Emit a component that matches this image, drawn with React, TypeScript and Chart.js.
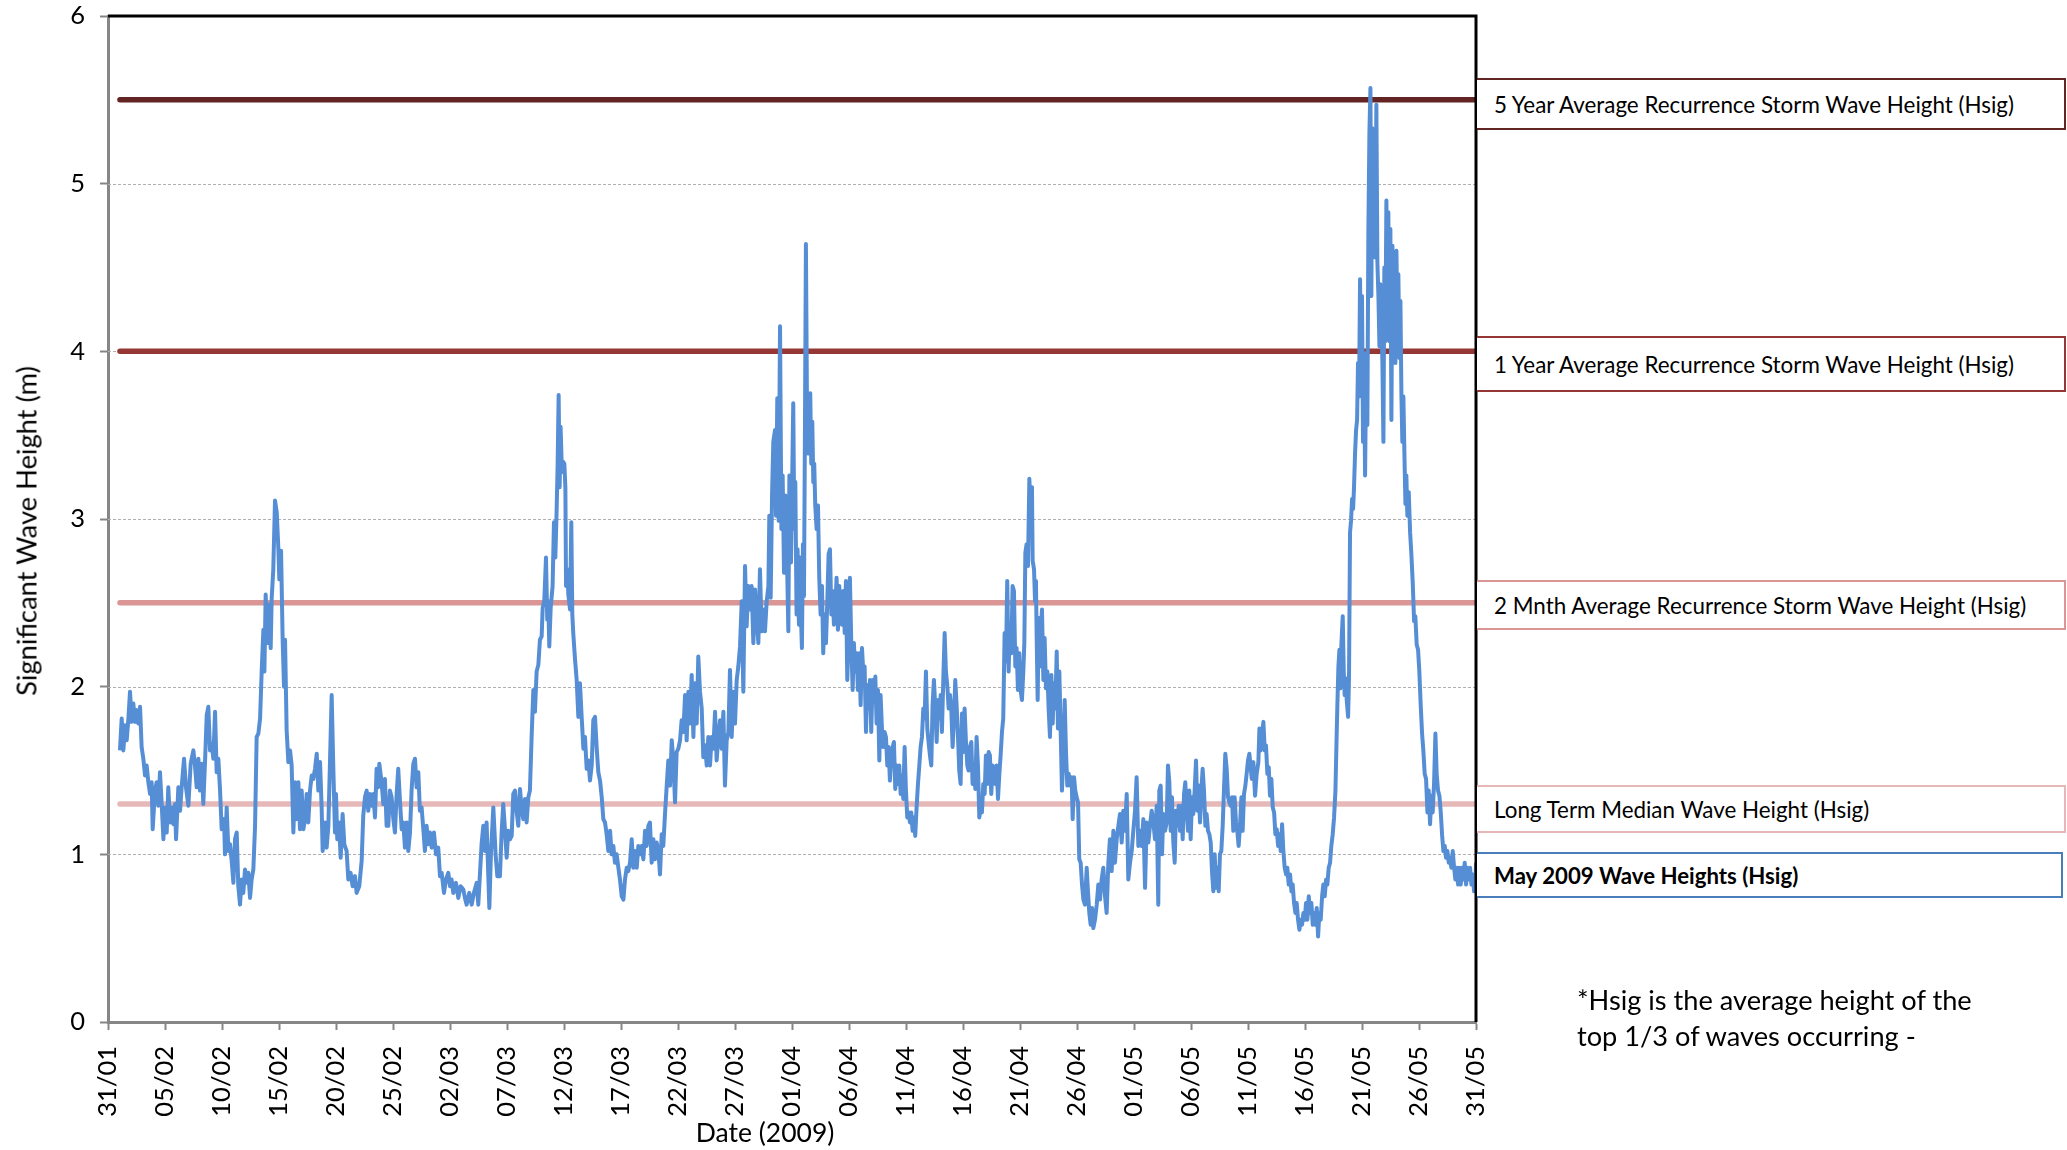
import React, { useEffect, useRef } from 'react';
import { Chart, registerables } from 'chart.js';

Chart.register(...registerables);

// ---------------- DATA ----------------
// x: days after 31/01/2009 (0 = 31/01, 120 = 31/05); y: Hsig (m)
const xTickLabels = [
  '31/01', '05/02', '10/02', '15/02', '20/02', '25/02', '02/03', '07/03', '12/03',
  '17/03', '22/03', '27/03', '01/04', '06/04', '11/04', '16/04', '21/04', '26/04',
  '01/05', '06/05', '11/05', '16/05', '21/05', '26/05', '31/05',
];
const yTickValues = [0, 1, 2, 3, 4, 5, 6];

const thresholdNames = [
  '5 Year Average Recurrence Storm Wave Height (Hsig)',
  '1 Year Average Recurrence Storm Wave Height (Hsig)',
  '2 Mnth Average Recurrence Storm Wave Height (Hsig)',
  'Long Term Median Wave Height (Hsig)',
];
const thresholdValues = [5.5, 4.0, 2.5, 1.3];
const seriesName = 'May 2009 Wave Heights (Hsig)';
const noteLines = ['*Hsig is the average height of the', 'top 1/3 of waves occurring -'];

// [day, Hsig]
const waveReadings: [number, number][] = [
  [1.05, 1.62], [1.2, 1.81], [1.35, 1.62], [1.49, 1.77], [1.64, 1.68], [1.79, 1.81], [1.93, 1.97], [2.08, 1.79],
  [2.22, 1.9], [2.37, 1.79], [2.52, 1.86], [2.66, 1.78], [2.81, 1.88], [2.95, 1.64], [3.1, 1.57], [3.25, 1.47],
  [3.39, 1.53], [3.54, 1.43], [3.69, 1.36], [3.83, 1.43], [3.92, 1.15], [4.12, 1.38], [4.27, 1.43], [4.42, 1.29],
  [4.56, 1.49], [4.71, 1.3], [4.86, 1.09], [5.0, 1.28], [5.15, 1.13], [5.29, 1.4], [5.44, 1.19], [5.59, 1.28],
  [5.73, 1.18], [5.88, 1.3], [5.97, 1.09], [6.17, 1.4], [6.32, 1.26], [6.46, 1.4], [6.67, 1.57], [6.84, 1.4],
  [7.05, 1.29], [7.25, 1.54], [7.49, 1.62], [7.63, 1.53], [7.78, 1.4], [7.93, 1.57], [8.07, 1.38], [8.22, 1.54],
  [8.36, 1.3], [8.51, 1.55], [8.66, 1.83], [8.8, 1.88], [8.95, 1.62], [9.1, 1.66], [9.24, 1.57], [9.39, 1.85],
  [9.53, 1.49], [9.68, 1.57], [9.83, 1.38], [9.97, 1.15], [10.18, 1.21], [10.26, 1.0], [10.41, 1.28], [10.56, 1.02],
  [10.7, 1.06], [10.85, 0.96], [11.0, 0.83], [11.14, 1.09], [11.29, 1.13], [11.43, 0.81], [11.58, 0.7], [11.73, 0.85],
  [11.87, 0.77], [12.02, 0.91], [12.17, 0.83], [12.31, 0.89], [12.46, 0.74], [12.6, 0.85], [12.75, 0.91], [12.9, 1.17],
  [13.04, 1.7], [13.19, 1.72], [13.34, 1.81], [13.48, 2.09], [13.63, 2.34], [13.72, 2.09], [13.83, 2.55], [13.98, 2.26],
  [14.12, 2.49], [14.27, 2.23], [14.36, 2.53], [14.5, 2.7], [14.65, 3.11], [14.8, 3.04], [14.94, 2.83], [15.03, 2.64],
  [15.18, 2.81], [15.32, 2.28], [15.44, 2.0], [15.53, 2.28], [15.67, 1.74], [15.82, 1.55], [15.97, 1.62], [16.11, 1.53],
  [16.26, 1.13], [16.41, 1.43], [16.55, 1.21], [16.7, 1.43], [16.84, 1.15], [16.99, 1.38], [17.14, 1.15], [17.28, 1.21],
  [17.43, 1.36], [17.57, 1.19], [17.72, 1.38], [17.87, 1.47], [18.01, 1.45], [18.16, 1.51], [18.31, 1.6], [18.45, 1.38],
  [18.6, 1.55], [18.74, 1.28], [18.83, 1.02], [19.04, 1.19], [19.18, 1.04], [19.33, 1.17],
  [19.62, 1.95], [19.76, 1.53], [19.91, 1.13], [20.0, 1.36], [20.11, 1.09], [20.26, 1.19], [20.41, 0.98], [20.58, 1.24],
  [20.73, 1.06], [20.93, 1.02], [21.08, 0.85], [21.28, 0.89], [21.46, 0.81], [21.66, 0.87], [21.81, 0.77], [22.04, 0.81],
  [22.25, 0.96], [22.39, 1.23], [22.54, 1.34], [22.69, 1.38], [22.83, 1.26], [22.98, 1.36], [23.13, 1.29], [23.27, 1.36],
  [23.42, 1.22], [23.56, 1.51], [23.71, 1.4], [23.8, 1.54], [24.0, 1.43], [24.15, 1.3], [24.29, 1.45], [24.44, 1.17],
  [24.59, 1.17], [24.73, 1.38], [24.88, 1.34], [25.03, 1.21], [25.17, 1.13], [25.32, 1.36], [25.46, 1.51], [25.61, 1.32],
  [25.76, 1.15], [25.9, 1.19], [26.05, 1.04], [26.2, 1.19], [26.34, 1.02], [26.49, 1.13], [26.63, 1.38], [26.78, 1.54],
  [26.93, 1.57], [27.07, 1.4], [27.22, 1.49], [27.36, 1.26], [27.51, 1.28], [27.66, 1.15], [27.8, 1.02], [27.95, 1.17],
  [28.1, 1.06], [28.24, 1.13], [28.39, 1.04], [28.59, 1.13], [28.77, 1.0], [28.97, 1.04], [29.12, 0.87], [29.27, 0.89],
  [29.47, 0.77], [29.65, 0.85], [29.85, 0.89], [30.0, 0.81], [30.14, 0.85], [30.29, 0.77], [30.52, 0.83], [30.73, 0.74],
  [30.93, 0.81], [31.17, 0.79], [31.31, 0.74], [31.46, 0.7], [31.69, 0.77], [31.9, 0.7], [32.1, 0.77], [32.34, 0.83],
  [32.48, 0.7], [32.77, 1.06], [32.92, 1.17], [33.07, 1.02], [33.21, 1.19], [33.45, 0.68], [33.59, 1.0], [33.8, 1.28],
  [34.0, 1.0], [34.15, 0.87], [34.38, 0.87], [34.53, 1.13], [34.67, 1.3], [34.82, 1.15], [34.97, 0.98], [35.11, 1.14],
  [35.26, 1.09], [35.41, 1.11], [35.55, 1.36], [35.7, 1.38], [35.84, 1.26], [35.99, 1.17], [36.14, 1.39], [36.28, 1.28],
  [36.43, 1.21], [36.58, 1.33], [36.72, 1.19], [36.87, 1.34], [37.01, 1.38], [37.16, 1.7], [37.31, 1.98], [37.45, 1.85],
  [37.6, 2.09], [37.75, 2.13], [37.89, 2.28], [38.04, 2.3], [38.13, 2.47], [38.27, 2.51], [38.42, 2.77], [38.53, 2.4],
  [38.62, 2.51], [38.71, 2.24], [38.83, 2.47], [39.0, 2.6], [39.12, 2.98], [39.24, 2.77], [39.35, 3.04], [39.44, 3.32],
  [39.53, 3.74], [39.62, 3.19], [39.7, 3.55], [39.82, 3.28], [39.94, 3.34],
  [40.03, 3.33], [40.12, 3.19], [40.18, 2.6], [40.29, 2.7], [40.38, 2.55], [40.53, 2.46], [40.64, 2.98], [40.73, 2.43],
  [40.82, 2.31], [40.97, 2.16], [41.11, 2.04], [41.26, 1.82], [41.4, 2.02], [41.55, 1.82], [41.7, 1.63], [41.84, 1.7],
  [41.99, 1.51], [42.14, 1.56], [42.28, 1.44], [42.43, 1.53], [42.57, 1.8], [42.72, 1.82], [42.87, 1.63], [43.01, 1.49],
  [43.16, 1.44], [43.31, 1.34], [43.45, 1.21], [43.6, 1.19], [43.74, 1.12], [43.89, 1.02], [44.04, 1.14], [44.18, 1.0],
  [44.33, 1.05], [44.47, 0.95], [44.62, 1.0], [44.77, 0.92], [44.91, 0.85], [45.06, 0.75], [45.21, 0.73], [45.35, 0.85],
  [45.5, 0.92], [45.64, 0.9], [45.79, 0.95], [45.94, 1.09], [46.08, 0.92], [46.23, 1.02], [46.38, 0.92], [46.52, 1.05],
  [46.67, 1.0], [46.81, 1.05], [46.96, 0.97], [47.11, 1.14], [47.25, 1.05], [47.4, 1.17], [47.54, 1.19], [47.69, 0.95],
  [47.84, 1.09], [47.98, 0.97], [48.13, 1.07], [48.28, 1.02], [48.42, 0.88], [48.57, 1.12], [48.71, 1.05], [48.86, 1.24],
  [49.01, 1.41], [49.15, 1.56], [49.3, 1.41], [49.45, 1.68], [49.59, 1.56], [49.74, 1.31], [49.88, 1.61], [50.03, 1.63],
  [50.18, 1.68], [50.32, 1.8], [50.47, 1.73], [50.62, 1.95], [50.76, 1.68], [50.91, 1.97], [51.05, 1.78], [51.2, 2.07],
  [51.35, 1.7], [51.49, 2.02], [51.64, 1.78], [51.78, 2.18], [51.93, 1.97], [52.08, 1.87], [52.22, 1.58], [52.37, 1.65],
  [52.52, 1.53], [52.66, 1.7], [52.81, 1.53], [52.95, 1.7], [53.1, 1.63], [53.25, 1.85], [53.39, 1.56], [53.54, 1.7],
  [53.69, 1.8], [53.83, 1.63], [53.98, 1.85], [54.12, 1.41], [54.27, 1.68], [54.42, 1.73], [54.56, 2.1], [54.71, 1.7],
  [54.85, 1.97], [55.0, 1.78], [55.15, 2.04], [55.29, 2.12], [55.44, 2.24], [55.59, 2.51], [55.73, 1.97], [55.88, 2.72],
  [56.02, 2.36], [56.17, 2.6], [56.32, 2.46], [56.46, 2.6], [56.61, 2.26], [56.76, 2.58], [56.9, 2.41], [57.05, 2.26],
  [57.19, 2.7], [57.34, 2.33], [57.49, 2.46], [57.63, 2.33], [57.78, 2.51], [57.93, 2.6], [58.01, 3.02], [58.13, 2.53],
  [58.25, 3.14], [58.36, 3.46], [58.51, 3.53], [58.6, 3.02], [58.71, 3.72], [58.83, 2.99], [58.95, 4.15], [59.07, 2.94],
  [59.18, 3.26], [59.3, 2.68], [59.42, 3.14], [59.53, 2.87], [59.68, 2.33], [59.77, 3.26],
  [59.91, 2.74], [60.0, 3.16], [60.11, 3.69], [60.2, 2.94], [60.29, 3.22], [60.4, 2.43], [60.49, 2.82], [60.61, 2.37],
  [60.7, 2.77], [60.78, 2.43], [60.87, 2.23], [60.96, 2.85], [61.05, 2.54], [61.14, 3.58], [61.22, 4.64], [61.31, 3.72],
  [61.43, 3.39], [61.52, 3.64], [61.6, 3.75], [61.69, 3.33], [61.78, 3.58], [61.87, 3.22], [61.95, 3.33], [62.04, 3.08],
  [62.16, 2.94], [62.28, 3.08], [62.39, 2.65], [62.51, 2.43], [62.63, 2.6], [62.74, 2.2], [62.86, 2.43], [62.98, 2.26],
  [63.09, 2.49], [63.21, 2.79], [63.33, 2.82], [63.45, 2.43], [63.56, 2.57], [63.68, 2.37], [63.8, 2.46], [63.91, 2.65],
  [64.03, 2.34], [64.15, 2.6], [64.26, 2.43], [64.38, 2.37], [64.5, 2.57], [64.62, 2.32], [64.73, 2.63], [64.85, 2.04],
  [64.97, 2.32], [65.08, 2.65], [65.2, 2.26], [65.32, 1.98], [65.43, 2.26], [65.55, 2.09], [65.67, 2.2], [65.78, 1.98],
  [65.9, 2.2], [66.02, 1.89], [66.14, 2.23], [66.25, 2.09], [66.37, 2.12], [66.49, 1.73], [66.6, 2.01], [66.72, 1.87],
  [66.84, 2.04], [66.95, 1.73], [67.07, 2.04], [67.19, 1.92], [67.31, 2.06], [67.42, 1.78], [67.54, 1.98], [67.66, 1.56],
  [67.77, 1.95], [67.89, 1.75], [68.01, 1.64], [68.12, 1.73], [68.24, 1.7], [68.36, 1.53], [68.47, 1.64], [68.59, 1.44],
  [68.71, 1.59], [68.83, 1.64], [68.94, 1.67], [69.06, 1.39], [69.18, 1.53], [69.29, 1.42], [69.41, 1.53], [69.53, 1.36],
  [69.64, 1.47], [69.76, 1.33], [69.88, 1.64], [69.99, 1.39], [70.11, 1.22], [70.23, 1.25], [70.35, 1.19], [70.46, 1.25],
  [70.58, 1.14], [70.7, 1.22], [70.81, 1.11], [70.93, 1.28], [71.05, 1.42], [71.17, 1.53], [71.28, 1.64], [71.4, 1.7],
  [71.52, 1.87], [71.63, 1.81], [71.75, 2.09], [71.87, 1.75], [71.98, 1.67], [72.1, 1.59], [72.22, 1.53], [72.33, 1.89],
  [72.45, 2.04], [72.57, 1.87], [72.69, 1.67], [72.8, 1.92], [72.92, 1.81], [73.04, 1.95], [73.15, 1.73], [73.27, 2.04],
  [73.39, 2.32], [73.5, 2.09], [73.62, 2.01], [73.74, 1.87], [73.86, 1.95], [73.97, 1.87], [74.09, 1.64], [74.21, 1.81],
  [74.32, 2.04], [74.44, 1.89], [74.56, 1.7], [74.67, 1.5], [74.79, 1.42], [74.91, 1.84], [75.02, 1.61], [75.14, 1.87],
  [75.26, 1.67], [75.38, 1.53], [75.49, 1.5], [75.61, 1.64], [75.73, 1.67], [75.84, 1.42], [75.96, 1.53], [76.08, 1.39],
  [76.19, 1.7], [76.31, 1.53], [76.43, 1.22], [76.55, 1.28], [76.66, 1.25], [76.78, 1.42], [76.9, 1.36], [77.01, 1.59],
  [77.13, 1.42], [77.25, 1.61], [77.36, 1.59], [77.48, 1.36], [77.6, 1.53], [77.71, 1.47], [77.83, 1.42], [77.95, 1.53],
  [78.07, 1.33], [78.18, 1.47], [78.3, 1.59], [78.42, 1.73], [78.53, 1.81], [78.65, 2.32], [78.77, 2.15], [78.88, 2.63],
  [79.0, 2.09], [79.12, 2.37], [79.24, 2.2], [79.35, 2.6], [79.47, 2.57], [79.59, 2.12], [79.7, 2.23], [79.82, 1.98],
  [79.94, 2.2], [80.05, 1.98], [80.17, 1.92], [80.29, 2.09],
  [80.38, 2.26], [80.47, 2.8], [80.58, 2.85], [80.7, 2.72], [80.82, 3.24], [80.94, 3.04], [81.05, 3.19], [81.11, 2.75],
  [81.23, 2.7], [81.32, 2.51], [81.4, 2.63], [81.46, 2.31], [81.55, 1.92], [81.64, 2.41], [81.75, 2.12], [81.84, 2.36],
  [81.93, 2.46], [82.05, 2.04], [82.16, 2.29], [82.28, 1.99], [82.4, 2.09], [82.51, 1.87], [82.63, 1.7], [82.75, 2.07],
  [82.87, 1.78], [82.98, 2.02], [83.1, 1.87], [83.22, 2.21], [83.33, 1.75], [83.45, 2.09], [83.57, 1.73], [83.68, 1.38],
  [83.8, 1.58], [83.92, 1.92], [84.04, 1.6], [84.15, 1.41], [84.27, 1.48], [84.39, 1.41], [84.53, 1.46], [84.62, 1.21],
  [84.74, 1.46], [84.85, 1.38], [84.97, 1.34], [85.09, 1.31], [85.2, 0.97], [85.32, 0.95], [85.44, 0.82], [85.56, 0.73],
  [85.7, 0.7], [85.85, 0.92], [85.96, 0.78], [86.08, 0.65], [86.2, 0.58], [86.32, 0.68], [86.43, 0.56], [86.58, 0.61],
  [86.73, 0.7], [86.87, 0.82], [87.02, 0.73], [87.16, 0.85], [87.31, 0.92], [87.46, 0.75], [87.6, 0.65], [87.75, 0.95],
  [87.89, 1.09], [88.04, 0.9], [88.19, 1.14], [88.33, 0.95], [88.48, 1.09], [88.63, 1.17], [88.77, 1.24], [88.92, 1.07],
  [89.06, 1.26], [89.21, 1.14], [89.36, 1.36], [89.5, 0.85], [89.65, 0.95], [89.8, 1.02], [89.94, 1.14], [90.09, 1.26],
  [90.23, 1.46], [90.38, 1.05], [90.53, 1.14], [90.67, 1.05], [90.82, 1.21], [90.97, 0.8], [91.11, 1.19], [91.26, 1.07],
  [91.4, 1.17], [91.55, 1.26], [91.7, 1.19], [91.84, 1.09], [91.99, 1.29], [92.13, 0.7], [92.22, 1.38], [92.34, 1.41],
  [92.46, 1.0], [92.57, 1.24], [92.72, 1.14], [92.87, 1.19], [92.98, 1.53], [93.1, 1.43], [93.22, 1.14], [93.33, 1.34],
  [93.45, 1.07], [93.57, 0.95], [93.68, 1.26], [93.8, 1.17], [93.92, 1.29], [94.04, 1.14], [94.15, 1.29], [94.27, 1.09],
  [94.39, 1.36], [94.5, 1.43], [94.62, 1.26], [94.74, 1.14], [94.85, 1.38], [94.97, 1.09], [95.09, 1.34], [95.2, 1.24],
  [95.32, 1.38], [95.44, 1.56], [95.56, 1.26], [95.67, 1.41], [95.79, 1.19], [95.91, 1.38], [96.02, 1.51], [96.14, 1.38],
  [96.26, 1.17], [96.37, 1.24], [96.49, 1.14], [96.61, 1.12], [96.73, 1.07], [96.84, 0.9], [96.96, 0.78], [97.08, 1.0],
  [97.19, 0.8], [97.31, 0.92], [97.43, 0.78], [97.54, 1.0], [97.66, 1.02], [97.78, 1.17], [97.89, 1.38], [98.01, 1.6],
  [98.13, 1.51], [98.25, 1.34], [98.36, 1.31], [98.48, 1.29], [98.6, 1.34], [98.71, 1.14], [98.83, 1.34], [98.95, 1.19],
  [99.06, 1.14], [99.18, 1.05], [99.3, 1.17], [99.42, 1.34], [99.53, 1.14], [99.65, 1.36], [99.77, 1.41], [99.88, 1.48],
  [100.0, 1.56], [100.12, 1.6],
  [100.33, 1.45], [100.47, 1.55], [100.62, 1.35], [100.76, 1.48], [100.91, 1.55], [101.0, 1.75], [101.12, 1.62], [101.23, 1.72],
  [101.35, 1.79], [101.47, 1.62], [101.58, 1.65], [101.7, 1.48], [101.82, 1.52], [101.93, 1.35], [102.05, 1.45], [102.17, 1.28],
  [102.29, 1.25], [102.4, 1.12], [102.52, 1.15], [102.64, 1.05], [102.75, 1.12], [102.87, 1.02], [102.99, 1.18], [103.1, 1.02],
  [103.22, 0.92], [103.34, 0.88], [103.45, 0.92], [103.57, 0.82], [103.69, 0.88], [103.81, 0.78], [103.92, 0.82], [104.04, 0.71],
  [104.16, 0.65], [104.27, 0.71], [104.39, 0.61], [104.51, 0.55], [104.62, 0.61], [104.74, 0.58], [104.86, 0.65], [104.98, 0.61],
  [105.09, 0.71], [105.21, 0.61], [105.33, 0.75], [105.44, 0.65], [105.56, 0.71], [105.68, 0.58], [105.79, 0.65], [105.91, 0.58],
  [106.03, 0.68], [106.15, 0.51], [106.26, 0.65], [106.38, 0.61], [106.5, 0.75], [106.61, 0.82], [106.73, 0.75], [106.85, 0.85],
  [106.96, 0.82], [107.08, 0.92], [107.2, 0.95], [107.31, 1.05], [107.43, 1.12], [107.55, 1.22], [107.67, 1.38], [107.78, 1.72],
  [107.84, 1.89], [107.93, 2.12], [108.02, 2.22], [108.1, 1.99], [108.19, 2.25], [108.31, 2.42], [108.4, 2.09], [108.48, 1.95],
  [108.57, 2.05], [108.66, 1.92], [108.78, 1.82], [108.86, 2.05], [108.95, 2.92], [109.04, 2.99], [109.13, 3.12], [109.22, 3.06],
  [109.3, 3.19], [109.39, 3.39], [109.48, 3.53], [109.57, 3.59], [109.65, 3.93], [109.74, 3.73], [109.83, 4.43], [109.92, 3.79],
  [110.0, 4.33], [110.09, 3.46], [110.18, 3.99], [110.27, 3.26], [110.36, 3.86], [110.47, 3.56], [110.56, 4.73], [110.65, 5.3],
  [110.74, 5.57], [110.82, 4.33], [110.91, 5.33], [111.0, 4.6], [111.09, 5.23], [111.17, 4.56], [111.26, 5.47], [111.35, 4.53],
  [111.44, 4.33], [111.53, 4.03], [111.61, 4.4], [111.7, 4.19], [111.79, 3.93], [111.88, 3.46], [111.96, 4.5], [112.05, 4.06],
  [112.14, 4.9], [112.23, 4.3], [112.31, 4.83], [112.4, 4.06], [112.49, 4.73], [112.58, 3.59], [112.67, 4.63], [112.75, 4.19],
  [112.84, 4.56], [112.93, 3.93], [113.02, 4.6], [113.1, 4.16], [113.19, 4.46], [113.28, 3.96], [113.37, 4.3], [113.46, 3.73],
  [113.54, 3.46], [113.63, 3.73], [113.72, 3.39], [113.81, 3.09], [113.89, 3.26], [113.98, 3.02], [114.1, 3.16], [114.22, 2.92],
  [114.33, 2.79], [114.45, 2.62], [114.57, 2.39], [114.68, 2.42], [114.8, 2.25], [114.92, 2.22], [115.03, 2.09], [115.15, 1.89],
  [115.27, 1.72], [115.38, 1.62], [115.5, 1.48], [115.62, 1.45], [115.74, 1.25], [115.85, 1.38], [115.97, 1.18], [116.09, 1.35],
  [116.2, 1.25], [116.32, 1.42], [116.44, 1.72], [116.55, 1.48], [116.67, 1.38], [116.79, 1.35], [116.91, 1.25], [117.02, 1.12],
  [117.14, 1.02], [117.26, 1.05], [117.37, 0.98], [117.49, 1.02], [117.61, 0.95], [117.72, 0.98], [117.84, 0.92], [117.96, 1.02],
  [118.08, 0.92], [118.19, 0.85], [118.31, 0.92], [118.43, 0.82], [118.54, 0.92], [118.66, 0.82], [118.78, 0.92], [118.89, 0.85],
  [119.01, 0.95], [119.13, 0.82], [119.24, 0.92], [119.36, 0.85], [119.48, 0.92], [119.6, 0.82], [119.71, 0.88], [119.83, 0.78],
  [119.95, 0.82], [120.0, 0.95],
];

// ---------------- STYLE ----------------
const FONT = 'Lato, "Noto Sans", sans-serif';
const waveColor = '#558ED5';
const thresholdColors = ['#632523', '#953735', '#D99694', '#E6B9B8'];
const seriesBoxColor = '#4A7EBB';
// label boxes: [top, height] in page pixels
const boxLayout: [number, number][] = [[78, 52], [336, 56], [580, 50], [785, 48]];
const seriesBoxLayout: [number, number] = [852, 46];

const CHART_LEFT = 108;
const CHART_RIGHT = 1476;
const CHART_TOP = 16;
const CHART_BOTTOM = 1022;
const W = 2067;
const H = 1150;

const zeroScalePadding = (scale: any) => {
  scale.paddingTop = 0;
  scale.paddingBottom = 0;
  scale.paddingLeft = 0;
  scale.paddingRight = 0;
};

const gridAndFramePlugin = {
  id: 'gridAndFrame',
  beforeDatasetsDraw(chart: any) {
    const { ctx, chartArea, scales } = chart;
    const y = scales.y;
    ctx.save();
    ctx.strokeStyle = '#B0B0B0';
    ctx.lineWidth = 1;
    ctx.setLineDash([3, 2]);
    for (const t of y.ticks) {
      if (t.value <= 0 || t.value >= 6) continue;
      const py = Math.round(y.getPixelForValue(t.value)) + 0.5;
      ctx.beginPath();
      ctx.moveTo(chartArea.left, py);
      ctx.lineTo(chartArea.right, py);
      ctx.stroke();
    }
    ctx.restore();
  },
  afterDatasetsDraw(chart: any) {
    const { ctx, chartArea } = chart;
    ctx.save();
    ctx.strokeStyle = '#000000';
    ctx.lineWidth = 3;
    ctx.beginPath();
    ctx.moveTo(chartArea.left, chartArea.top);
    ctx.lineTo(chartArea.right, chartArea.top);
    ctx.lineTo(chartArea.right, chartArea.bottom);
    ctx.stroke();
    ctx.restore();
  },
};

export default function App() {
  const canvasRef = useRef<HTMLCanvasElement | null>(null);

  useEffect(() => {
    const canvas = canvasRef.current;
    if (!canvas) return;
    const firstDay = waveReadings[0][0];
    const lastDay = waveReadings[waveReadings.length - 1][0];

    const datasets: any[] = [
      {
        label: seriesName,
        data: waveReadings.map(([d, v]) => ({ x: d, y: v })),
        borderColor: waveColor,
        borderWidth: 4,
        pointRadius: 0,
        tension: 0,
        borderJoinStyle: 'round',
        fill: false,
      },
      ...thresholdValues.map((v, i) => ({
        label: thresholdNames[i],
        data: [
          { x: firstDay, y: v },
          { x: lastDay, y: v },
        ],
        borderColor: thresholdColors[i],
        borderWidth: 5.5,
        borderCapStyle: 'round',
        pointRadius: 0,
        fill: false,
      })),
    ];

    const tickFont = { family: FONT, size: 25.5 };

    const chart = new Chart(canvas, {
      type: 'line',
      data: { datasets },
      options: {
        responsive: false,
        animation: false,
        events: [],
        layout: { autoPadding: false, padding: { left: 0, right: W - CHART_RIGHT, top: CHART_TOP, bottom: 0 } },
        plugins: { legend: { display: false }, tooltip: { enabled: false }, title: { display: false } },
        scales: {
          x: {
            type: 'linear',
            min: 0,
            max: 120,
            afterBuildTicks: (axis: any) => {
              axis.ticks = xTickLabels.map((_, i) => ({ value: i * 5 }));
            },
            afterFit: (scale: any) => {
              scale.height = H - CHART_BOTTOM;
              zeroScalePadding(scale);
            },
            ticks: {
              autoSkip: false,
              minRotation: 90,
              maxRotation: 90,
              padding: 16,
              color: '#000000',
              font: tickFont,
              callback: (value: any) => xTickLabels[Math.round(Number(value) / 5)] ?? '',
            },
            grid: { drawOnChartArea: false, drawTicks: true, tickLength: 8, tickColor: '#868686', tickWidth: 2 },
            border: { display: true, color: '#868686', width: 3 },
          },
          y: {
            type: 'linear',
            min: 0,
            max: 6,
            afterBuildTicks: (axis: any) => {
              axis.ticks = yTickValues.map((v) => ({ value: v }));
            },
            afterFit: (scale: any) => {
              scale.width = CHART_LEFT;
              zeroScalePadding(scale);
            },
            ticks: { padding: 15, color: '#000000', font: tickFont },
            grid: { drawOnChartArea: false, drawTicks: true, tickLength: 8, tickColor: '#868686', tickWidth: 2 },
            border: { display: true, color: '#868686', width: 3 },
          },
        },
      },
      plugins: [gridAndFramePlugin],
    } as any);

    return () => chart.destroy();
  }, []);

  const boxBase: React.CSSProperties = {
    position: 'absolute',
    left: CHART_RIGHT + 1,
    width: W - 1 - (CHART_RIGHT + 1),
    boxSizing: 'border-box',
    borderWidth: 2,
    borderStyle: 'solid',
    borderLeftWidth: 0,
    background: '#ffffff',
    display: 'flex',
    alignItems: 'center',
    paddingLeft: 17,
    fontFamily: FONT,
    fontSize: 22.4,
    color: '#000000',
    whiteSpace: 'nowrap',
  };

  return (
    <div
      style={{
        position: 'absolute',
        left: 0,
        top: 0,
        width: W,
        height: H,
        overflow: 'hidden',
        background: '#ffffff',
        fontFamily: FONT,
      }}
    >
      <canvas ref={canvasRef} width={W} height={H} style={{ position: 'absolute', left: 0, top: 0, display: 'block' }} />

      <div
        style={{
          position: 'absolute',
          left: 26,
          top: 531,
          transform: 'translate(-50%, -50%) rotate(-90deg)',
          fontSize: 27.3,
          whiteSpace: 'nowrap',
          color: '#000',
        }}
      >
        Significant Wave Height (m)
      </div>

      <div
        style={{
          position: 'absolute',
          left: 765,
          top: 1132,
          transform: 'translate(-50%, -50%)',
          fontSize: 26.5,
          whiteSpace: 'nowrap',
          color: '#000',
        }}
      >
        Date (2009)
      </div>

      {thresholdNames.map((name, i) => (
        <div
          key={name}
          style={{
            ...boxBase,
            top: boxLayout[i][0],
            height: boxLayout[i][1],
            borderColor: thresholdColors[i],
          }}
        >
          {name}
        </div>
      ))}

      <div
        style={{
          ...boxBase,
          top: seriesBoxLayout[0],
          height: seriesBoxLayout[1],
          width: 2063 - (CHART_RIGHT + 1),
          borderColor: seriesBoxColor,
          fontWeight: 'bold',
          fontSize: 22.2,
        }}
      >
        {seriesName}
      </div>

      <div
        style={{
          position: 'absolute',
          left: 1577,
          top: 982,
          fontSize: 27.2,
          lineHeight: '36px',
          color: '#000',
          whiteSpace: 'nowrap',
        }}
      >
        {noteLines.map((l) => (
          <div key={l}>{l}</div>
        ))}
      </div>
    </div>
  );
}
